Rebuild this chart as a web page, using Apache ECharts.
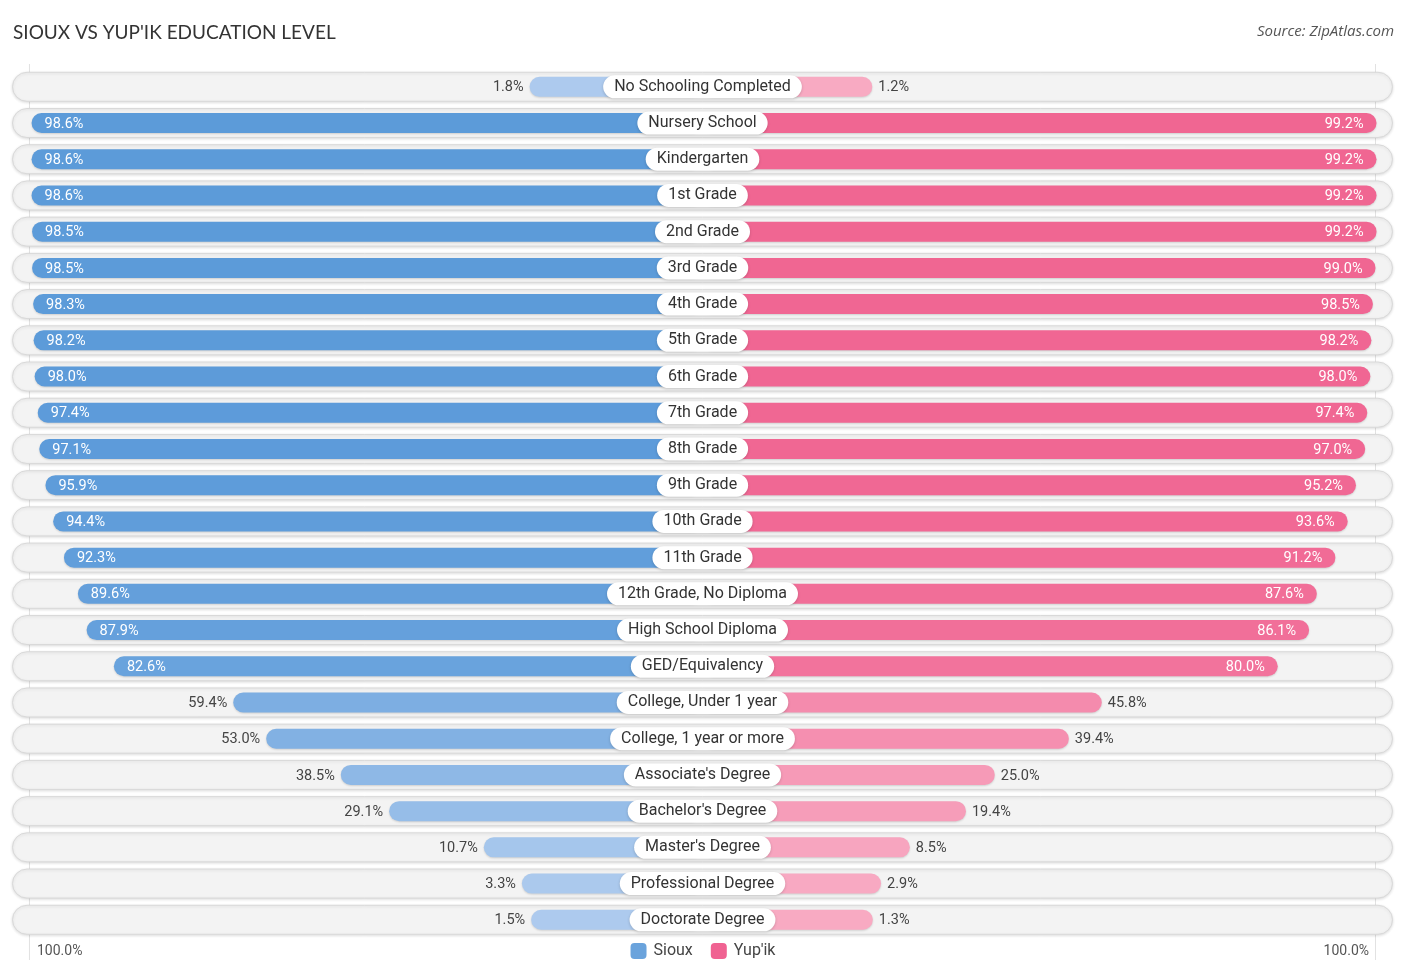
<!DOCTYPE html>
<html>
<head>
<meta charset="utf-8">
<script src="https://cdn.jsdelivr.net/npm/echarts@6/dist/echarts.min.js"></script>
<style>
html,body{margin:0;padding:0;background:#fff;}
#chart{width:1406px;height:975px;}
</style>
</head>
<body>
<div id="chart"></div>
<script>
const categories = [
  "No Schooling Completed","Nursery School","Kindergarten","1st Grade","2nd Grade","3rd Grade",
  "4th Grade","5th Grade","6th Grade","7th Grade","8th Grade","9th Grade","10th Grade","11th Grade",
  "12th Grade, No Diploma","High School Diploma","GED/Equivalency","College, Under 1 year",
  "College, 1 year or more","Associate's Degree","Bachelor's Degree","Master's Degree",
  "Professional Degree","Doctorate Degree"
];
const siouxValues = [1.8,98.6,98.6,98.6,98.5,98.5,98.3,98.2,98.0,97.4,97.1,95.9,94.4,92.3,89.6,87.9,82.6,59.4,53.0,38.5,29.1,10.7,3.3,1.5];
const yupikValues = [1.2,99.2,99.2,99.2,99.2,99.0,98.5,98.2,98.0,97.4,97.0,95.2,93.6,91.2,87.6,86.1,80.0,45.8,39.4,25.0,19.4,8.5,2.9,1.3];
const seriesNames = ["Sioux","Yup'ik"];
const axisEndLabels = ["100.0%","100.0%"];

// layout / style constants
const OFFSET = 31.8;      // minimum visible bar length (axis units) under the centre label
const BG_EXTENT = 134.2;  // half-width of row background pill (axis units)
const INSIDE_MIN = 70;

function mix(a, b, t) {
  const pa = [1,3,5].map(i => parseInt(a.substr(i,2),16));
  const pb = [1,3,5].map(i => parseInt(b.substr(i,2),16));
  return 'rgb(' + pa.map((v,k) => Math.round(v + (pb[k]-v)*t)).join(',') + ')';
}
const blueLight = '#aecbee', blueStrong = '#5b9ad9';
const pinkLight = '#f8abc3', pinkStrong = '#f06592';

function makeData(values, sign, light, strong) {
  return values.map(v => {
    const inside = v >= INSIDE_MIN;
    return {
      value: sign * (v + OFFSET),
      itemStyle: { color: mix(light, strong, v / 100) },
      label: {
        show: true,
        position: inside ? (sign < 0 ? 'insideLeft' : 'insideRight') : (sign < 0 ? 'left' : 'right'),
        distance: inside ? 13 : 6,
        offset: [0, 1],
        color: inside ? '#ffffff' : '#444444',
        fontSize: 14.5,
        fontFamily: 'Roboto',
        formatter: v.toFixed(1) + '%'
      }
    };
  });
}

const chart = echarts.init(document.getElementById('chart'), null, {renderer: 'canvas'});
const option = {
  animation: false,
  backgroundColor: '#ffffff',
  title: {
    text: "SIOUX VS YUP'IK EDUCATION LEVEL",
    left: 13, top: 23, padding: 0,
    textStyle: { fontSize: 19, fontWeight: 'normal', color: '#333', fontFamily: 'Lato' }
  },
  legend: {
    data: [
      { name: seriesNames[0], itemStyle: { color: '#6aa3dc' } },
      { name: seriesNames[1], itemStyle: { color: '#f06292' } }
    ],
    left: 'center', top: 938,
    itemWidth: 16, itemHeight: 16, itemGap: 18,
    icon: 'roundRect',
    textStyle: { fontSize: 16, color: '#444', fontFamily: 'Roboto', padding: [0, 0, 0, 2] }
  },
  grid: { left: 12, right: 13, top: 68.7, bottom: 37.1, containLabel: false, outerBoundsMode: 'none' },
  xAxis: {
    type: 'value', min: -BG_EXTENT, max: BG_EXTENT,
    show: false
  },
  yAxis: {
    type: 'category', data: categories, inverse: true,
    show: false
  },
  series: [
    {
      type: 'custom',
      name: 'bg',
      z: 1,
      silent: true,
      data: categories.map((c, i) => [i]),
      renderItem: function (params, api) {
        const i = api.value(0);
        const p0 = api.coord([-BG_EXTENT, i]);
        const p1 = api.coord([BG_EXTENT, i]);
        const h = 29;
        return {
          type: 'rect',
          shape: { x: p0[0] + 0.5, y: p0[1] - h / 2, width: p1[0] - p0[0] - 1, height: h, r: h / 2 },
          style: {
            fill: '#f3f3f3', stroke: '#d9d9d9', lineWidth: 1,
            shadowColor: 'rgba(0,0,0,0.12)', shadowBlur: 3, shadowOffsetY: 1
          }
        };
      }
    },
    {
      type: 'bar',
      name: seriesNames[0],
      z: 3,
      barWidth: 20,
      barGap: '-100%',
      itemStyle: { borderRadius: 10, shadowColor: 'rgba(0,0,0,0.15)', shadowBlur: 2, shadowOffsetY: 1 },
      data: makeData(siouxValues, -1, blueLight, blueStrong)
    },
    {
      type: 'bar',
      name: seriesNames[1],
      z: 3,
      barWidth: 20,
      barGap: '-100%',
      itemStyle: { borderRadius: 10, shadowColor: 'rgba(0,0,0,0.15)', shadowBlur: 2, shadowOffsetY: 1 },
      data: makeData(yupikValues, 1, pinkLight, pinkStrong)
    },
    {
      type: 'custom',
      name: 'labels',
      z: 10,
      silent: true,
      data: categories.map((c, i) => [i]),
      renderItem: function (params, api) {
        const i = api.value(0);
        const p = api.coord([0, i]);
        return {
          type: 'text',
          x: p[0], y: p[1],
          style: {
            text: categories[i],
            align: 'center', verticalAlign: 'middle',
            fontSize: 16, fontFamily: 'Roboto', fill: '#333',
            backgroundColor: '#ffffff',
            borderRadius: 12,
            padding: [4, 11, 3, 11],
            shadowColor: 'rgba(0,0,0,0.18)', shadowBlur: 3, shadowOffsetY: 1
          }
        };
      }
    }
  ]
};
chart.setOption(option);

// frame lines and end labels, positioned via the axis scale
const lx = chart.convertToPixel({ xAxisIndex: 0 }, -130.8);
const rx = chart.convertToPixel({ xAxisIndex: 0 }, 130.8);
chart.setOption({
  graphic: [
    { type: 'line', z: 0, silent: true, shape: { x1: lx, y1: 64, x2: lx, y2: 960 }, style: { stroke: '#e2e2e2', lineWidth: 1 } },
    { type: 'line', z: 0, silent: true, shape: { x1: rx, y1: 64, x2: rx, y2: 960 }, style: { stroke: '#e2e2e2', lineWidth: 1 } },
    { type: 'text', left: 37, top: 944.5, style: { text: axisEndLabels[0], fontSize: 14, fill: '#555', fontFamily: 'Roboto' } },
    { type: 'text', right: 37, top: 944.5, style: { text: axisEndLabels[1], fontSize: 14, fill: '#555', fontFamily: 'Roboto', align: 'right' } },
    { type: 'text', right: 12, top: 24, style: { text: 'Source: ZipAtlas.com', fontSize: 15, fill: '#555', fontStyle: 'italic', fontFamily: 'Open Sans' } }
  ]
});
</script>
</body>
</html>
